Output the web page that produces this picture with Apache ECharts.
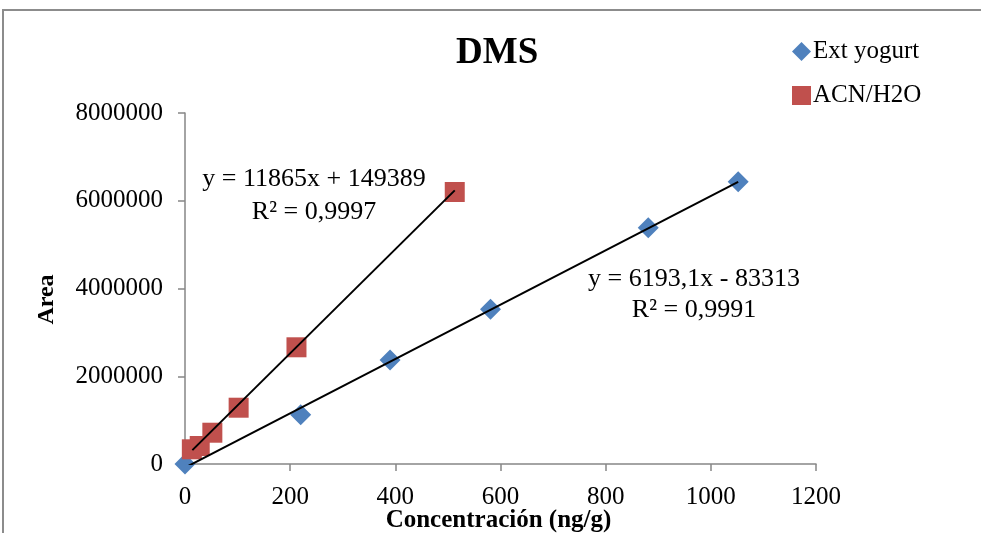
<!DOCTYPE html>
<html>
<head>
<meta charset="utf-8">
<script src="https://cdn.jsdelivr.net/npm/echarts@6/dist/echarts.min.js"></script>
<style>
html,body{margin:0;padding:0;background:#fff;}
#chart{width:981px;height:533px;}
</style>
</head>
<body>
<div id="chart"></div>
<script>
// datos
var yogurtX = [0, 220, 390, 581, 881, 1052];
var yogurtY = [0, 1120000, 2370000, 3526000, 5386000, 6434000];
var acnX = [13, 28, 52, 102, 212, 513];
var acnY = [335000, 410000, 713000, 1283000, 2660000, 6200000];
// lineas de tendencia (extremos)
var yogurtTrend = [[0, -83313], [1052, 6432000]];
var acnTrend = [[14, 315500], [513, 6236000]];
var xTicks = [0, 200, 400, 600, 800, 1000, 1200];
var yTicks = [0, 2000000, 4000000, 6000000, 8000000];

var serif = '"Liberation Serif", "Times New Roman", serif';

function pairs(xs, ys){
	var out = [];
	for(var i = 0; i < xs.length; i++){
		out.push([xs[i], ys[i]]);
	}
	return out;
}
function plain(v){
	return String(v);
}

var myChart = echarts.init(document.getElementById('chart'));
var option = {
	animation: false,
	backgroundColor: '#fff',
	title: {
		text: 'DMS',
		left: 451,
		top: 30,
		textStyle: {fontFamily: serif, fontSize: 37, fontWeight: 'bold', color: '#000'}
	},
	legend: {
		orient: 'vertical',
		left: 787,
		top: 34,
		itemWidth: 19,
		itemHeight: 19,
		itemGap: 19,
		data: [
			{name: 'Ext yogurt', icon: 'diamond'},
			{name: 'ACN/H2O', icon: 'rect'}
		],
		textStyle: {fontFamily: serif, fontSize: 25, color: '#000', lineHeight: 25, padding: [0, 0, 0, -3]}
	},
	grid: {left: 185, top: 113, right: 165, bottom: 69, containLabel: false, outerBoundsMode: 'none'},
	xAxis: {
		type: 'value',
		min: xTicks[0],
		max: xTicks[xTicks.length - 1],
		interval: 200,
		name: 'Concentración (ng/g)',
		nameLocation: 'middle',
		nameGap: 44,
		nameMoveOverlap: false,
		nameTextStyle: {fontFamily: serif, fontSize: 25, fontWeight: 'bold', color: '#000', padding: [0, 0, 0, -4]},
		axisLine: {show: true, onZero: false, lineStyle: {color: '#868686', width: 1.5}},
		axisTick: {show: true, length: 7, lineStyle: {color: '#868686', width: 1.5}},
		axisLabel: {fontFamily: serif, fontSize: 25, color: '#000', margin: 21, formatter: plain},
		splitLine: {show: false}
	},
	yAxis: {
		type: 'value',
		min: yTicks[0],
		max: yTicks[yTicks.length - 1],
		interval: 2000000,
		name: 'Area',
		nameLocation: 'middle',
		nameGap: 126,
		nameMoveOverlap: false,
		nameTextStyle: {fontFamily: serif, fontSize: 24, fontWeight: 'bold', color: '#000', padding: [0, 22, 0, 0]},
		axisLine: {show: true, lineStyle: {color: '#868686', width: 1.5}},
		axisTick: {show: true, length: 7, lineStyle: {color: '#868686', width: 1.5}},
		axisLabel: {fontFamily: serif, fontSize: 25, color: '#000', margin: 22, formatter: plain},
		splitLine: {show: false}
	},
	graphic: [
		{
			type: 'rect',
			shape: {x: 3, y: 10, width: 1000, height: 600},
			style: {fill: 'none', stroke: '#8c8c8c', lineWidth: 2},
			silent: true,
			z: -1
		},
		{
			type: 'text',
			x: 314, y: 163,
			style: {
				text: 'y = 11865x + 149389\nR² = 0,9997',
				align: 'center',
				font: '26px ' + serif,
				lineHeight: 33,
				fill: '#000'
			}
		},
		{
			type: 'text',
			x: 694, y: 264,
			style: {
				text: 'y = 6193,1x - 83313\nR² = 0,9991',
				align: 'center',
				font: '26px ' + serif,
				lineHeight: 31,
				fill: '#000'
			}
		}
	],
	series: [
		{
			name: 'Ext yogurt',
			type: 'scatter',
			symbol: 'diamond',
			symbolSize: 21,
			itemStyle: {color: '#4F81BD', opacity: 1},
			data: pairs(yogurtX, yogurtY),
			z: 2
		},
		{
			name: 'ACN/H2O',
			type: 'scatter',
			symbol: 'rect',
			symbolSize: 20,
			itemStyle: {color: '#C0504D', opacity: 1},
			data: pairs(acnX, acnY),
			z: 2
		},
		{
			name: 'tend yogurt',
			type: 'line',
			showSymbol: false,
			clip: true,
			lineStyle: {color: '#000', width: 2},
			data: yogurtTrend,
			z: 5
		},
		{
			name: 'tend acn',
			type: 'line',
			showSymbol: false,
			clip: true,
			lineStyle: {color: '#000', width: 2},
			data: acnTrend,
			z: 5
		}
	]
};
myChart.setOption(option);
</script>
</body>
</html>
